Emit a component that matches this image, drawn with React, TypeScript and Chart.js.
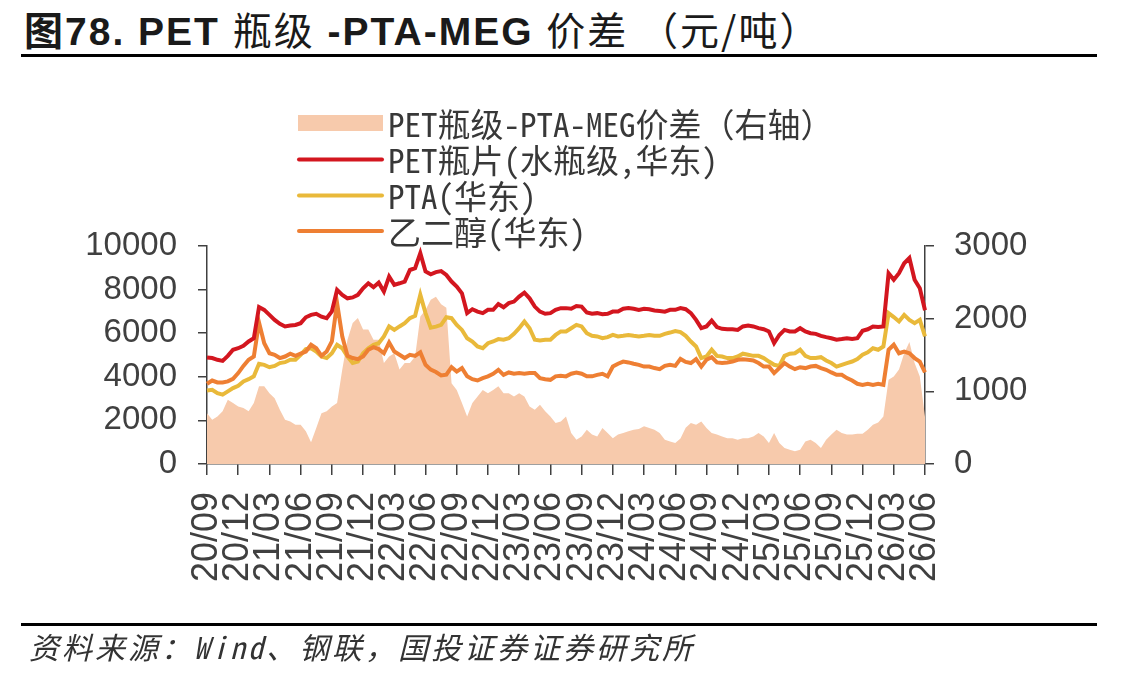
import React, { useEffect, useRef } from 'react';
import { Chart, registerables } from 'chart.js';
Chart.register(...registerables);

// Semi-monthly observation dates (categories)
const dates: string[] = [
  '2020-09-01','2020-09-16','2020-10-01','2020-10-16','2020-11-01','2020-11-16','2020-12-01','2020-12-16',
  '2021-01-01','2021-01-16','2021-02-01','2021-02-16','2021-03-01','2021-03-16','2021-04-01','2021-04-16','2021-05-01','2021-05-16','2021-06-01','2021-06-16',
  '2021-07-01','2021-07-16','2021-08-01','2021-08-16','2021-09-01','2021-09-16','2021-10-01','2021-10-16','2021-11-01','2021-11-16','2021-12-01','2021-12-16',
  '2022-01-01','2022-01-16','2022-02-01','2022-02-16','2022-03-01','2022-03-16','2022-04-01','2022-04-16','2022-05-01','2022-05-16','2022-06-01','2022-06-16',
  '2022-07-01','2022-07-16','2022-08-01','2022-08-16','2022-09-01','2022-09-16','2022-10-01','2022-10-16','2022-11-01','2022-11-16','2022-12-01','2022-12-16',
  '2023-01-01','2023-01-16','2023-02-01','2023-02-16','2023-03-01','2023-03-16','2023-04-01','2023-04-16','2023-05-01','2023-05-16','2023-06-01','2023-06-16',
  '2023-07-01','2023-07-16','2023-08-01','2023-08-16','2023-09-01','2023-09-16','2023-10-01','2023-10-16','2023-11-01','2023-11-16','2023-12-01','2023-12-16',
  '2024-01-01','2024-01-16','2024-02-01','2024-02-16','2024-03-01','2024-03-16','2024-04-01','2024-04-16','2024-05-01','2024-05-16','2024-06-01','2024-06-16',
  '2024-07-01','2024-07-16','2024-08-01','2024-08-16','2024-09-01','2024-09-16','2024-10-01','2024-10-16','2024-11-01','2024-11-16','2024-12-01','2024-12-16',
  '2025-01-01','2025-01-16','2025-02-01','2025-02-16','2025-03-01','2025-03-16','2025-04-01','2025-04-16','2025-05-01','2025-05-16','2025-06-01','2025-06-16',
  '2025-07-01','2025-07-16','2025-08-01','2025-08-16','2025-09-01','2025-09-16','2025-10-01','2025-10-16','2025-11-01','2025-11-16','2025-12-01','2025-12-16',
  '2026-01-01','2026-01-16','2026-02-01','2026-02-16','2026-03-01','2026-03-16','2026-04-01','2026-04-16','2026-05-01','2026-05-16','2026-06-01',
];

const xTickLabels: string[] = [
  '20/09','20/12','21/03','21/06','21/09','21/12','22/03','22/06','22/09','22/12','23/03','23/06',
  '23/09','23/12','24/03','24/06','24/09','24/12','25/03','25/06','25/09','25/12','26/03','26/06',
];

// PET bottle chip (water bottle grade, East China), left axis
const petBottle: number[] = [
  4890, 4860, 4780, 4730, 4960, 5240, 5310, 5420,
  5620, 5770, 7200, 7070, 6840, 6610, 6430, 6310, 6350, 6380, 6460, 6730, 6840, 6890, 6760, 6690, 7000, 7990, 7760, 7600, 7640, 7760, 8060, 8290,
  8110, 8320, 7910, 8600, 8220, 8290, 8370, 8900, 8980, 9670, 8830, 8700, 8800, 8850, 8670, 8370, 8140, 7830, 6920, 7100, 6990, 6920, 7070, 7070,
  7340, 7190, 7380, 7450, 7680, 7860, 7600, 7220, 6990, 6890, 6920, 7070, 7150, 7150, 7120, 7250, 7220, 6950, 6890, 6920, 6870, 6890, 6990, 6990,
  7120, 7150, 7120, 7070, 7120, 7100, 7040, 7020, 6990, 7070, 7070, 7150, 7100, 6920, 6610, 6230, 6310, 6580, 6280, 6200, 6180, 6180, 6150, 6310,
  6350, 6310, 6230, 6180, 6080, 5550, 5920, 6150, 6080, 6080, 6230, 6080, 6000, 5970, 5880, 5820, 5770, 5700, 5730, 5770, 5730, 5770, 6110, 6180,
  6310, 6280, 6310, 8750, 8450, 8750, 9210, 9450, 8450, 8060, 7050,
];

// PTA (East China), left axis
const pta: number[] = [
  3370, 3400, 3250, 3180, 3330, 3480, 3590, 3790,
  3890, 4020, 4600, 4550, 4440, 4500, 4630, 4670, 4780, 4780, 5010, 5270, 5310, 5160, 4930, 4860, 5080, 5470, 5310, 4930, 4630, 4700, 5080, 5310,
  5470, 5540, 5850, 6310, 6150, 6310, 6460, 6690, 6800, 7760, 6920, 6250, 6300, 6380, 6730, 6690, 6380, 6150, 5770, 5620, 5390, 5310, 5540, 5620,
  5730, 5700, 5770, 5970, 6230, 6540, 6230, 5700, 5670, 5700, 5700, 5920, 6080, 6080, 6230, 6380, 6310, 6000, 5880, 5850, 5770, 5820, 5920, 5850,
  5880, 5920, 5880, 5850, 5880, 5920, 5880, 5880, 5970, 6030, 6100, 6050, 5880, 5620, 5390, 4860, 4930, 5240, 4960, 4930, 4860, 4860, 4930, 5060,
  5010, 4960, 4960, 4860, 4700, 4550, 4500, 4960, 5060, 5080, 5240, 4960, 4860, 4860, 4900, 4750, 4630, 4470, 4550, 4630, 4700, 4810, 5010, 5120,
  5310, 5240, 5390, 6920, 6740, 6540, 6840, 6610, 6460, 6610, 5850,
];

// MEG (ethylene glycol, East China), left axis
const meg: number[] = [
  3680, 3830, 3740, 3740, 3790, 3910, 4170, 4500,
  4780, 4930, 6490, 5540, 5080, 5010, 4860, 4930, 5060, 4960, 5060, 5160, 5470, 5310, 4960, 5160, 5620, 7380, 5850, 4960, 4860, 4810, 4930, 5240,
  5360, 5270, 5080, 5570, 5160, 5010, 4860, 5010, 4960, 5120, 4550, 4330, 4220, 4060, 4100, 4440, 4240, 4400, 4020, 3890, 3830, 3940, 4020, 4140,
  4320, 4090, 4200, 4140, 4170, 4140, 4170, 4170, 3940, 3890, 3860, 4020, 4050, 4020, 4140, 4200, 4140, 4020, 4020, 4090, 4140, 4020, 4470, 4600,
  4700, 4660, 4600, 4550, 4470, 4470, 4400, 4350, 4500, 4550, 4500, 4820, 4680, 4630, 4810, 4470, 4780, 4900, 4660, 4630, 4660, 4700, 4780, 4810,
  4780, 4750, 4630, 4470, 4470, 4170, 4400, 4630, 4470, 4350, 4440, 4400, 4470, 4500, 4400, 4320, 4200, 4090, 4090, 3940, 3830, 3680, 3630, 3680,
  3630, 3680, 3630, 5240, 5470, 5080, 5160, 5080, 4860, 4700, 4200,
];

// PET bottle - PTA - MEG spread, right axis
const spread: number[] = [
  700, 610, 655, 725, 885, 840, 790, 770,
  725, 840, 1070, 1070, 975, 905, 745, 610, 585, 540, 540, 450, 300, 495, 700, 725, 790, 840, 1300, 1710, 1940, 2010, 1850, 1850,
  1710, 1710, 1390, 1480, 1525, 1300, 1390, 1390, 1480, 2030, 2120, 2260, 2300, 2200, 2150, 1110, 1020, 840, 655, 840, 930, 1020, 975, 1020,
  1070, 975, 975, 930, 975, 930, 790, 745, 815, 725, 655, 565, 585, 655, 425, 335, 380, 470, 405, 380, 495, 425, 355, 405,
  425, 450, 470, 480, 520, 495, 470, 425, 335, 310, 290, 350, 500, 565, 540, 585, 495, 425, 405, 380, 355, 355, 335, 355,
  355, 380, 425, 380, 290, 425, 290, 220, 195, 175, 195, 310, 335, 290, 220, 335, 405, 470, 425, 405, 405, 415, 415, 470,
  540, 570, 655, 1160, 1205, 1300, 1525, 1680, 1390, 1205, 650,
];

const seriesNames: string[] = [
  'PET瓶级-PTA-MEG价差（右轴）',
  'PET瓶片(水瓶级,华东)',
  'PTA(华东)',
  '乙二醇(华东)',
];

const W = 1147;
const H = 678;
const AXIS = '#404040';

const toTick = (d: string) => d.slice(2, 4) + '/' + d.slice(5, 7);
const isTickDate = (d: string) => d.slice(8) === '01' && xTickLabels.includes(toTick(d));

const legendPlugin = {
  id: 'boxLegend',
  afterDraw(chart: any) {
    const ctx = chart.ctx as CanvasRenderingContext2D;
    const rows = [123, 159.5, 195.5, 231];
    const x0 = 298, x1 = 383, tx = 388;
    ctx.save();
    chart.data.datasets.forEach((ds: any, i: number) => {
      const y = rows[i];
      if (i === 0) {
        ctx.fillStyle = ds.backgroundColor;
        ctx.fillRect(x0, y - 8, x1 - x0, 16);
      } else {
        ctx.strokeStyle = ds.borderColor;
        ctx.lineWidth = 4;
        ctx.lineCap = 'round';
        ctx.beginPath();
        ctx.moveTo(x0 + 1, y);
        ctx.lineTo(x1 - 1, y);
        ctx.stroke();
      }
      ctx.fillStyle = '#383838';
      ctx.font = "33px 'Noto Sans Mono CJK SC', 'Noto Sans CJK SC', sans-serif";
      ctx.textBaseline = 'middle';
      ctx.textAlign = 'left';
      ctx.fillText(ds.label, tx, y + 1);
    });
    ctx.restore();
  },
};

export default function App() {
  const ref = useRef<HTMLCanvasElement | null>(null);

  useEffect(() => {
    if (!ref.current) return;
    const tickFont = { family: "'Liberation Sans', Arial, sans-serif", size: 33 };
    const plain = (v: any) => String(v);
    const chart = new Chart(ref.current, {
      type: 'line',
      data: {
        labels: dates,
        datasets: [
          {
            label: seriesNames[0],
            data: spread,
            yAxisID: 'y1',
            fill: 'origin',
            backgroundColor: '#F7CAAC',
            borderWidth: 0,
            borderColor: 'rgba(0,0,0,0)',
            pointRadius: 0,
            tension: 0,
            order: 4,
          },
          {
            label: seriesNames[1],
            data: petBottle,
            yAxisID: 'y',
            borderColor: '#D3161F',
            backgroundColor: '#D3161F',
            borderWidth: 4,
            pointRadius: 0,
            tension: 0,
            fill: false,
            order: 1,
          },
          {
            label: seriesNames[2],
            data: pta,
            yAxisID: 'y',
            borderColor: '#E9B93A',
            backgroundColor: '#E9B93A',
            borderWidth: 4,
            pointRadius: 0,
            tension: 0,
            fill: false,
            order: 3,
          },
          {
            label: seriesNames[3],
            data: meg,
            yAxisID: 'y',
            borderColor: '#EE7F33',
            backgroundColor: '#EE7F33',
            borderWidth: 4,
            pointRadius: 0,
            tension: 0,
            fill: false,
            order: 2,
          },
        ],
      },
      options: {
        responsive: false,
        animation: false,
        layout: { padding: { top: 246, left: 0, right: 0, bottom: 0 } },
        plugins: {
          legend: { display: false },
          tooltip: { enabled: false },
          title: { display: false },
        },
        scales: {
          x: {
            type: 'category',
            offset: false,
            grid: { drawOnChartArea: false, drawTicks: true, tickLength: 11, color: AXIS, lineWidth: 1.5 },
            border: { color: AXIS, width: 1.5 },
            ticks: {
              autoSkip: false,
              maxRotation: 90,
              minRotation: 90,
              padding: 17,
              color: AXIS,
              font: { family: "'Liberation Sans', Arial, sans-serif", size: 36 },
              callback: function (this: any, value: any) {
                return toTick(this.getLabelForValue(value));
              },
            },
            afterBuildTicks: (scale: any) => {
              scale.ticks = scale.ticks.filter((t: any) => isTickDate(dates[t.value]));
            },
            afterFit: (scale: any) => {
              scale.height = H - 464;
            },
          },
          y: {
            position: 'left',
            min: 0,
            max: 10000,
            grid: { drawOnChartArea: false, drawTicks: true, tickLength: 9, color: AXIS, lineWidth: 1.5 },
            border: { color: AXIS, width: 1.5 },
            ticks: { stepSize: 2000, padding: 21, color: AXIS, font: tickFont, callback: plain },
            afterFit: (scale: any) => {
              scale.width = 207;
            },
          },
          y1: {
            position: 'right',
            min: 0,
            max: 3000,
            grid: { drawOnChartArea: false, drawTicks: true, tickLength: 9, color: AXIS, lineWidth: 1.5 },
            border: { color: AXIS, width: 1.5 },
            ticks: { stepSize: 1000, padding: 20, color: AXIS, font: tickFont, callback: plain },
            afterFit: (scale: any) => {
              scale.width = W - 925;
            },
          },
        },
      },
      plugins: [legendPlugin],
    });
    return () => chart.destroy();
  }, []);

  const bold = { fontWeight: 'bold' as const };
  const reg = { fontWeight: 'normal' as const, fontFamily: "'Noto Sans CJK SC', sans-serif" };

  return (
    <div style={{ position: 'fixed', left: 0, top: 0, width: W, height: H, background: '#fff', overflow: 'hidden' }}>
      <div
        style={{
          position: 'absolute',
          left: 24,
          top: 5,
          fontFamily: "'Liberation Sans', 'Noto Sans CJK SC', sans-serif",
          fontSize: 39,
          letterSpacing: '2px',
          lineHeight: '46px',
          color: '#1a1a1a',
          whiteSpace: 'nowrap',
        }}
      >
        <span style={bold}>图78. PET </span>
        <span style={reg}>瓶级</span>
        <span style={bold}> -PTA-MEG </span>
        <span style={reg}>价差 （元/吨）</span>
      </div>
      <div style={{ position: 'absolute', left: 21, top: 54, width: 1076, height: 3, background: '#000' }} />
      <canvas ref={ref} width={W} height={H} style={{ position: 'absolute', left: 0, top: 0, width: W, height: H }} />
      <div style={{ position: 'absolute', left: 21, top: 623, width: 1076, height: 3, background: '#000' }} />
      <div
        style={{
          position: 'absolute',
          left: 29,
          top: 628,
          fontFamily: "'Noto Sans Mono CJK SC', 'Noto Sans CJK SC', sans-serif",
          fontStyle: 'italic',
          fontSize: 30,
          letterSpacing: '3px',
          lineHeight: '36px',
          color: '#333',
          whiteSpace: 'nowrap',
        }}
      >
        资料来源：Wind、钢联，国投证券证券研究所
      </div>
    </div>
  );
}
